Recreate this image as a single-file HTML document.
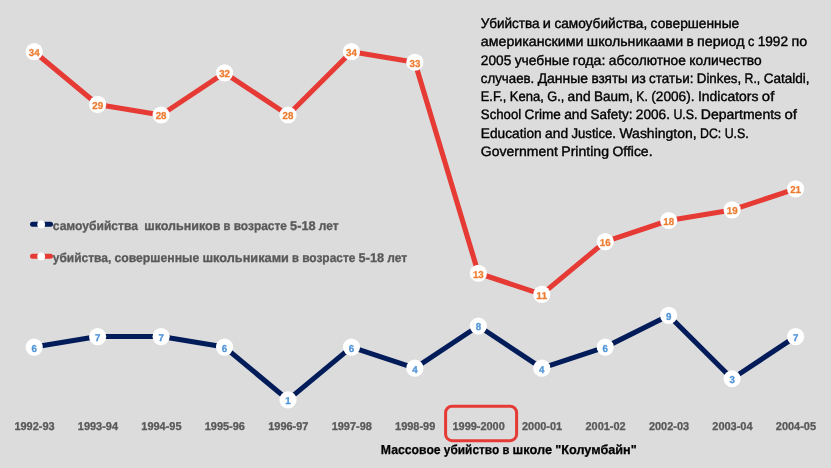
<!DOCTYPE html>
<html lang="ru">
<head>
<meta charset="utf-8">
<title>Убийства и самоубийства школьников</title>
<style>
html,body{margin:0;padding:0;background:#dcdcdc;}
body{width:831px;height:468px;overflow:hidden;}
svg{display:block;}
text{font-family:"Liberation Sans", sans-serif;text-rendering:geometricPrecision;}
.dl{font-weight:bold;font-size:10.0px;}
.ax{font-weight:bold;font-size:11.3px;fill:#595959;stroke:#595959;stroke-width:0.3px;}
.lg{font-weight:bold;font-size:12.6px;fill:#595959;stroke:#595959;stroke-width:0.3px;}
.tt{font-size:13.75px;fill:#000;stroke:#000;stroke-width:0.38px;}
.bt{font-weight:bold;font-size:13.0px;fill:#000;stroke:#000;stroke-width:0.25px;}
</style>
</head>
<body>
<svg width="831" height="468" viewBox="0 0 831 468">
<rect x="0" y="0" width="831" height="468" fill="#dcdcdc"/>

<polyline points="34.20,51.70 97.65,104.45 161.10,115.00 224.55,72.80 288.00,115.00 351.45,51.70 414.90,62.25 478.35,273.25 541.80,294.35 605.25,241.60 668.70,220.50 732.15,209.95 795.60,188.85" fill="none" stroke="#e63a35" stroke-width="5.1" stroke-linejoin="round" stroke-linecap="round"/>
<circle cx="34.20" cy="51.70" r="8.6" fill="#fff"/>
<circle cx="97.65" cy="104.45" r="8.6" fill="#fff"/>
<circle cx="161.10" cy="115.00" r="8.6" fill="#fff"/>
<circle cx="224.55" cy="72.80" r="8.6" fill="#fff"/>
<circle cx="288.00" cy="115.00" r="8.6" fill="#fff"/>
<circle cx="351.45" cy="51.70" r="8.6" fill="#fff"/>
<circle cx="414.90" cy="62.25" r="8.6" fill="#fff"/>
<circle cx="478.35" cy="273.25" r="8.6" fill="#fff"/>
<circle cx="541.80" cy="294.35" r="8.6" fill="#fff"/>
<circle cx="605.25" cy="241.60" r="8.6" fill="#fff"/>
<circle cx="668.70" cy="220.50" r="8.6" fill="#fff"/>
<circle cx="732.15" cy="209.95" r="8.6" fill="#fff"/>
<circle cx="795.60" cy="188.85" r="8.6" fill="#fff"/>
<text class="dl" y="56.10" fill="#ed7d31" stroke="#ed7d31" stroke-width="0.3"><tspan x="28.79" textLength="10.82" lengthAdjust="spacingAndGlyphs">34</tspan></text>
<text class="dl" y="108.85" fill="#ed7d31" stroke="#ed7d31" stroke-width="0.3"><tspan x="92.24" textLength="10.82" lengthAdjust="spacingAndGlyphs">29</tspan></text>
<text class="dl" y="119.40" fill="#ed7d31" stroke="#ed7d31" stroke-width="0.3"><tspan x="155.69" textLength="10.82" lengthAdjust="spacingAndGlyphs">28</tspan></text>
<text class="dl" y="77.20" fill="#ed7d31" stroke="#ed7d31" stroke-width="0.3"><tspan x="219.14" textLength="10.82" lengthAdjust="spacingAndGlyphs">32</tspan></text>
<text class="dl" y="119.40" fill="#ed7d31" stroke="#ed7d31" stroke-width="0.3"><tspan x="282.59" textLength="10.82" lengthAdjust="spacingAndGlyphs">28</tspan></text>
<text class="dl" y="56.10" fill="#ed7d31" stroke="#ed7d31" stroke-width="0.3"><tspan x="346.04" textLength="10.82" lengthAdjust="spacingAndGlyphs">34</tspan></text>
<text class="dl" y="66.65" fill="#ed7d31" stroke="#ed7d31" stroke-width="0.3"><tspan x="409.49" textLength="10.82" lengthAdjust="spacingAndGlyphs">33</tspan></text>
<text class="dl" y="277.65" fill="#ed7d31" stroke="#ed7d31" stroke-width="0.3"><tspan x="472.94" textLength="10.82" lengthAdjust="spacingAndGlyphs">13</tspan></text>
<text class="dl" y="298.75" fill="#ed7d31" stroke="#ed7d31" stroke-width="0.3"><tspan x="536.39" textLength="10.82" lengthAdjust="spacingAndGlyphs">11</tspan></text>
<text class="dl" y="246.00" fill="#ed7d31" stroke="#ed7d31" stroke-width="0.3"><tspan x="599.84" textLength="10.82" lengthAdjust="spacingAndGlyphs">16</tspan></text>
<text class="dl" y="224.90" fill="#ed7d31" stroke="#ed7d31" stroke-width="0.3"><tspan x="663.29" textLength="10.82" lengthAdjust="spacingAndGlyphs">18</tspan></text>
<text class="dl" y="214.35" fill="#ed7d31" stroke="#ed7d31" stroke-width="0.3"><tspan x="726.74" textLength="10.82" lengthAdjust="spacingAndGlyphs">19</tspan></text>
<text class="dl" y="193.25" fill="#ed7d31" stroke="#ed7d31" stroke-width="0.3"><tspan x="790.19" textLength="10.82" lengthAdjust="spacingAndGlyphs">21</tspan></text>
<polyline points="34.20,347.10 97.65,336.55 161.10,336.55 224.55,347.10 288.00,399.85 351.45,347.10 414.90,368.20 478.35,326.00 541.80,368.20 605.25,347.10 668.70,315.45 732.15,378.75 795.60,336.55" fill="none" stroke="#021c5a" stroke-width="5.1" stroke-linejoin="round" stroke-linecap="round"/>
<circle cx="34.20" cy="347.10" r="8.6" fill="#fff"/>
<circle cx="97.65" cy="336.55" r="8.6" fill="#fff"/>
<circle cx="161.10" cy="336.55" r="8.6" fill="#fff"/>
<circle cx="224.55" cy="347.10" r="8.6" fill="#fff"/>
<circle cx="288.00" cy="399.85" r="8.6" fill="#fff"/>
<circle cx="351.45" cy="347.10" r="8.6" fill="#fff"/>
<circle cx="414.90" cy="368.20" r="8.6" fill="#fff"/>
<circle cx="478.35" cy="326.00" r="8.6" fill="#fff"/>
<circle cx="541.80" cy="368.20" r="8.6" fill="#fff"/>
<circle cx="605.25" cy="347.10" r="8.6" fill="#fff"/>
<circle cx="668.70" cy="315.45" r="8.6" fill="#fff"/>
<circle cx="732.15" cy="378.75" r="8.6" fill="#fff"/>
<circle cx="795.60" cy="336.55" r="8.6" fill="#fff"/>
<text class="dl" y="351.50" fill="#4f94d8" stroke="#4f94d8" stroke-width="0.3"><tspan x="31.50" textLength="5.41" lengthAdjust="spacingAndGlyphs">6</tspan></text>
<text class="dl" y="340.95" fill="#4f94d8" stroke="#4f94d8" stroke-width="0.3"><tspan x="94.95" textLength="5.41" lengthAdjust="spacingAndGlyphs">7</tspan></text>
<text class="dl" y="340.95" fill="#4f94d8" stroke="#4f94d8" stroke-width="0.3"><tspan x="158.40" textLength="5.41" lengthAdjust="spacingAndGlyphs">7</tspan></text>
<text class="dl" y="351.50" fill="#4f94d8" stroke="#4f94d8" stroke-width="0.3"><tspan x="221.85" textLength="5.41" lengthAdjust="spacingAndGlyphs">6</tspan></text>
<text class="dl" y="404.25" fill="#4f94d8" stroke="#4f94d8" stroke-width="0.3"><tspan x="285.30" textLength="5.41" lengthAdjust="spacingAndGlyphs">1</tspan></text>
<text class="dl" y="351.50" fill="#4f94d8" stroke="#4f94d8" stroke-width="0.3"><tspan x="348.75" textLength="5.41" lengthAdjust="spacingAndGlyphs">6</tspan></text>
<text class="dl" y="372.60" fill="#4f94d8" stroke="#4f94d8" stroke-width="0.3"><tspan x="412.20" textLength="5.41" lengthAdjust="spacingAndGlyphs">4</tspan></text>
<text class="dl" y="330.40" fill="#4f94d8" stroke="#4f94d8" stroke-width="0.3"><tspan x="475.65" textLength="5.41" lengthAdjust="spacingAndGlyphs">8</tspan></text>
<text class="dl" y="372.60" fill="#4f94d8" stroke="#4f94d8" stroke-width="0.3"><tspan x="539.10" textLength="5.41" lengthAdjust="spacingAndGlyphs">4</tspan></text>
<text class="dl" y="351.50" fill="#4f94d8" stroke="#4f94d8" stroke-width="0.3"><tspan x="602.55" textLength="5.41" lengthAdjust="spacingAndGlyphs">6</tspan></text>
<text class="dl" y="319.85" fill="#4f94d8" stroke="#4f94d8" stroke-width="0.3"><tspan x="666.00" textLength="5.41" lengthAdjust="spacingAndGlyphs">9</tspan></text>
<text class="dl" y="383.15" fill="#4f94d8" stroke="#4f94d8" stroke-width="0.3"><tspan x="729.45" textLength="5.41" lengthAdjust="spacingAndGlyphs">3</tspan></text>
<text class="dl" y="340.95" fill="#4f94d8" stroke="#4f94d8" stroke-width="0.3"><tspan x="792.90" textLength="5.41" lengthAdjust="spacingAndGlyphs">7</tspan></text>
<text class="ax" y="430.00"><tspan x="14.42" textLength="40.17" lengthAdjust="spacingAndGlyphs">1992-93</tspan></text>
<text class="ax" y="430.00"><tspan x="77.87" textLength="40.17" lengthAdjust="spacingAndGlyphs">1993-94</tspan></text>
<text class="ax" y="430.00"><tspan x="141.32" textLength="40.17" lengthAdjust="spacingAndGlyphs">1994-95</tspan></text>
<text class="ax" y="430.00"><tspan x="204.77" textLength="40.17" lengthAdjust="spacingAndGlyphs">1995-96</tspan></text>
<text class="ax" y="430.00"><tspan x="268.22" textLength="40.17" lengthAdjust="spacingAndGlyphs">1996-97</tspan></text>
<text class="ax" y="430.00"><tspan x="331.67" textLength="40.17" lengthAdjust="spacingAndGlyphs">1997-98</tspan></text>
<text class="ax" y="430.00"><tspan x="395.12" textLength="40.17" lengthAdjust="spacingAndGlyphs">1998-99</tspan></text>
<text class="ax" y="430.00"><tspan x="452.48" textLength="52.33" lengthAdjust="spacingAndGlyphs">1999-2000</tspan></text>
<text class="ax" y="430.00"><tspan x="522.02" textLength="40.17" lengthAdjust="spacingAndGlyphs">2000-01</tspan></text>
<text class="ax" y="430.00"><tspan x="585.47" textLength="40.17" lengthAdjust="spacingAndGlyphs">2001-02</tspan></text>
<text class="ax" y="430.00"><tspan x="648.92" textLength="40.17" lengthAdjust="spacingAndGlyphs">2002-03</tspan></text>
<text class="ax" y="430.00"><tspan x="712.37" textLength="40.17" lengthAdjust="spacingAndGlyphs">2003-04</tspan></text>
<text class="ax" y="430.00"><tspan x="775.82" textLength="40.17" lengthAdjust="spacingAndGlyphs">2004-05</tspan></text>
<rect x="445.6" y="406.2" width="71" height="34.5" rx="6.5" ry="6.5" fill="none" stroke="#e63a35" stroke-width="3"/>
<line x1="32.5" y1="224.3" x2="50.5" y2="224.3" stroke="#021c5a" stroke-width="5" stroke-linecap="round"/>
<circle cx="41.2" cy="224.4" r="3.9" fill="#fff"/>
<text class="lg" y="229.80"><tspan x="52.80" textLength="85.10" lengthAdjust="spacingAndGlyphs">самоубийства</tspan> <tspan x="144.23" textLength="76.23" lengthAdjust="spacingAndGlyphs">школьников</tspan> <tspan x="223.62" textLength="6.92" lengthAdjust="spacingAndGlyphs">в</tspan> <tspan x="233.71" textLength="53.21" lengthAdjust="spacingAndGlyphs">возрасте</tspan> <tspan x="290.09" textLength="25.57" lengthAdjust="spacingAndGlyphs">5-18</tspan> <tspan x="318.83" textLength="19.87" lengthAdjust="spacingAndGlyphs">лет</tspan></text>
<line x1="32.5" y1="256.3" x2="50.5" y2="256.3" stroke="#e63a35" stroke-width="5" stroke-linecap="round"/>
<circle cx="41.2" cy="256.4" r="3.9" fill="#fff"/>
<text class="lg" y="261.80"><tspan x="52.80" textLength="58.43" lengthAdjust="spacingAndGlyphs">убийства,</tspan> <tspan x="114.39" textLength="84.89" lengthAdjust="spacingAndGlyphs">совершенные</tspan> <tspan x="202.45" textLength="86.47" lengthAdjust="spacingAndGlyphs">школьниками</tspan> <tspan x="292.08" textLength="6.92" lengthAdjust="spacingAndGlyphs">в</tspan> <tspan x="302.17" textLength="53.21" lengthAdjust="spacingAndGlyphs">возрасте</tspan> <tspan x="358.54" textLength="25.57" lengthAdjust="spacingAndGlyphs">5-18</tspan> <tspan x="387.28" textLength="19.87" lengthAdjust="spacingAndGlyphs">лет</tspan></text>
<text class="tt" y="28.00"><tspan x="480.85" textLength="58.64" lengthAdjust="spacingAndGlyphs">Убийства</tspan> <tspan x="542.88" textLength="8.11" lengthAdjust="spacingAndGlyphs">и</tspan> <tspan x="554.38" textLength="92.84" lengthAdjust="spacingAndGlyphs">самоубийства,</tspan> <tspan x="650.61" textLength="88.67" lengthAdjust="spacingAndGlyphs">совершенные</tspan></text>
<text class="tt" y="46.25"><tspan x="480.85" textLength="102.60" lengthAdjust="spacingAndGlyphs">американскими</tspan> <tspan x="586.85" textLength="96.20" lengthAdjust="spacingAndGlyphs">школьникаами</tspan> <tspan x="686.44" textLength="7.19" lengthAdjust="spacingAndGlyphs">в</tspan> <tspan x="697.02" textLength="47.54" lengthAdjust="spacingAndGlyphs">период</tspan> <tspan x="747.95" textLength="6.34" lengthAdjust="spacingAndGlyphs">с</tspan> <tspan x="757.68" textLength="30.41" lengthAdjust="spacingAndGlyphs">1992</tspan> <tspan x="791.48" textLength="15.72" lengthAdjust="spacingAndGlyphs">по</tspan></text>
<text class="tt" y="64.50"><tspan x="480.85" textLength="30.41" lengthAdjust="spacingAndGlyphs">2005</tspan> <tspan x="514.65" textLength="54.75" lengthAdjust="spacingAndGlyphs">учебные</tspan> <tspan x="572.79" textLength="32.67" lengthAdjust="spacingAndGlyphs">года:</tspan> <tspan x="608.85" textLength="77.11" lengthAdjust="spacingAndGlyphs">абсолютное</tspan> <tspan x="689.35" textLength="72.37" lengthAdjust="spacingAndGlyphs">количество</tspan></text>
<text class="tt" y="82.75"><tspan x="480.85" textLength="53.44" lengthAdjust="spacingAndGlyphs">случаев.</tspan> <tspan x="537.68" textLength="50.34" lengthAdjust="spacingAndGlyphs">Данные</tspan> <tspan x="591.41" textLength="36.44" lengthAdjust="spacingAndGlyphs">взяты</tspan> <tspan x="631.24" textLength="14.45" lengthAdjust="spacingAndGlyphs">из</tspan> <tspan x="649.08" textLength="44.31" lengthAdjust="spacingAndGlyphs">статьи:</tspan> <tspan x="696.78" textLength="44.44" lengthAdjust="spacingAndGlyphs">Dinkes,</tspan> <tspan x="744.62" textLength="15.67" lengthAdjust="spacingAndGlyphs">R.,</tspan> <tspan x="763.68" textLength="45.90" lengthAdjust="spacingAndGlyphs">Cataldi,</tspan></text>
<text class="tt" y="101.00"><tspan x="480.85" textLength="25.53" lengthAdjust="spacingAndGlyphs">E.F.,</tspan> <tspan x="509.77" textLength="34.06" lengthAdjust="spacingAndGlyphs">Kena,</tspan> <tspan x="547.23" textLength="16.99" lengthAdjust="spacingAndGlyphs">G.,</tspan> <tspan x="567.61" textLength="22.95" lengthAdjust="spacingAndGlyphs">and</tspan> <tspan x="593.95" textLength="38.95" lengthAdjust="spacingAndGlyphs">Baum,</tspan> <tspan x="636.29" textLength="11.58" lengthAdjust="spacingAndGlyphs">K.</tspan> <tspan x="651.26" textLength="43.29" lengthAdjust="spacingAndGlyphs">(2006).</tspan> <tspan x="697.95" textLength="60.54" lengthAdjust="spacingAndGlyphs">Indicators</tspan> <tspan x="761.88" textLength="12.49" lengthAdjust="spacingAndGlyphs">of</tspan></text>
<text class="tt" y="119.25"><tspan x="480.85" textLength="40.38" lengthAdjust="spacingAndGlyphs">School</tspan> <tspan x="524.62" textLength="36.12" lengthAdjust="spacingAndGlyphs">Crime</tspan> <tspan x="564.13" textLength="22.95" lengthAdjust="spacingAndGlyphs">and</tspan> <tspan x="590.46" textLength="41.95" lengthAdjust="spacingAndGlyphs">Safety:</tspan> <tspan x="635.80" textLength="34.20" lengthAdjust="spacingAndGlyphs">2006.</tspan> <tspan x="673.39" textLength="24.09" lengthAdjust="spacingAndGlyphs">U.S.</tspan> <tspan x="700.87" textLength="80.23" lengthAdjust="spacingAndGlyphs">Departments</tspan> <tspan x="784.49" textLength="12.49" lengthAdjust="spacingAndGlyphs">of</tspan></text>
<text class="tt" y="137.50"><tspan x="480.85" textLength="60.87" lengthAdjust="spacingAndGlyphs">Education</tspan> <tspan x="545.11" textLength="22.95" lengthAdjust="spacingAndGlyphs">and</tspan> <tspan x="571.45" textLength="44.59" lengthAdjust="spacingAndGlyphs">Justice.</tspan> <tspan x="619.43" textLength="77.22" lengthAdjust="spacingAndGlyphs">Washington,</tspan> <tspan x="700.04" textLength="21.24" lengthAdjust="spacingAndGlyphs">DC:</tspan> <tspan x="724.67" textLength="24.09" lengthAdjust="spacingAndGlyphs">U.S.</tspan></text>
<text class="tt" y="155.75"><tspan x="480.85" textLength="77.07" lengthAdjust="spacingAndGlyphs">Government</tspan> <tspan x="561.31" textLength="47.71" lengthAdjust="spacingAndGlyphs">Printing</tspan> <tspan x="612.41" textLength="40.12" lengthAdjust="spacingAndGlyphs">Office.</tspan></text>
<text class="bt" y="453.90"><tspan x="380.80" textLength="59.89" lengthAdjust="spacingAndGlyphs">Массовое</tspan> <tspan x="443.85" textLength="55.43" lengthAdjust="spacingAndGlyphs">убийство</tspan> <tspan x="502.45" textLength="6.92" lengthAdjust="spacingAndGlyphs">в</tspan> <tspan x="512.54" textLength="39.55" lengthAdjust="spacingAndGlyphs">школе</tspan> <tspan x="555.25" textLength="81.46" lengthAdjust="spacingAndGlyphs">"Колумбайн"</tspan></text>
</svg>
</body>
</html>
